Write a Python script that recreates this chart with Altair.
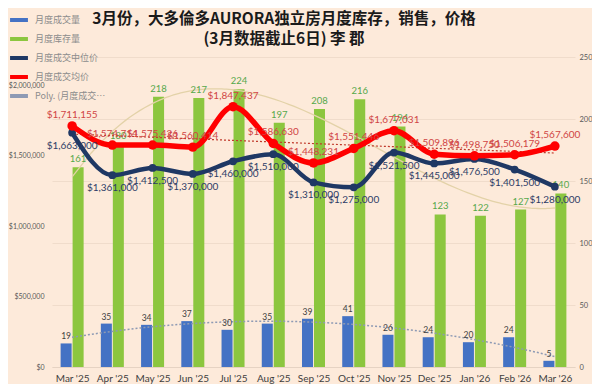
import json
import altair as alt
import pandas as pd

months = ["Mar '25", "Apr '25", "May '25", "Jun '25", "Jul '25", "Aug '25", "Sep '25",
          "Oct '25", "Nov '25", "Dec '25", "Jan '26", "Feb '26", "Mar '26"]
sales = [19, 35, 34, 37, 30, 35, 39, 41, 26, 24, 20, 24, 5]
inventory = [161, 180, 218, 217, 224, 197, 208, 216, 194, 123, 122, 127, 140]
median_price = [1663000, 1361000, 1412500, 1370000, 1460000, 1510000, 1310000,
                1275000, 1521500, 1445000, 1476500, 1401500, 1280000]
average_price = [1711155, 1574714, 1575426, 1560414, 1847437, 1586630, 1448231,
                 1551446, 1677031, 1509896, 1498750, 1506179, 1567600]

legend_names = ["月度成交量", "月度库存量", "月度成交中位价", "月度成交均价", "Poly. (月度成交量)"]
legend_colors = ["#4472C4", "#8CC63F", "#1F3864", "#FF0000", "#8E9AB4"]

title_lines = ["3月份，大多倫多AURORA独立房月度库存，销售，价格", "(3月数据截止6日) 李 郡"]

df = pd.DataFrame({
    "idx": list(range(len(months))),
    "month": months,
    "sales": sales,
    "inventory": inventory,
    "median": median_price,
    "average": average_price,
})

FONT = "Lato"
xs = alt.Scale(domain=[-0.5, len(months) - 0.5], nice=False, zero=False)
xaxis = alt.Axis(values=list(range(len(months))),
                 labelExpr=f"{json.dumps(months)}[datum.value]",
                 title=None, grid=False, ticks=False, domain=True,
                 domainColor="#E6D3C3", labelFont=FONT, labelFontSize=10,
                 labelColor="#404040", labelPadding=6)

ys_cnt = alt.Scale(domain=[0, 250], nice=False, zero=True)
yaxis_cnt = alt.Axis(orient="right", values=[0, 50, 100, 150, 200, 250], title=None,
                     grid=True, gridColor="#F0DCCB", ticks=False, domain=False,
                     labelFont=FONT, labelFontSize=7.5, labelColor="#595959",
                     labelPadding=4)
ys_pr = alt.Scale(domain=[0, 2200000], nice=False, zero=True)
yaxis_pr = alt.Axis(orient="left", values=[0, 500000, 1000000, 1500000, 2000000],
                    format="$,.0f", title=None, grid=False, ticks=False, domain=False,
                    labelFont=FONT, labelFontSize=7, labelColor="#595959",
                    labelPadding=8)

base = alt.Chart(df)

blue_bars = base.transform_calculate(
    bx1="datum.idx - 0.286", bx2="datum.idx - 0.012"
).mark_bar(color="#4472C4").encode(
    x=alt.X("bx1:Q", scale=xs, axis=xaxis), x2="bx2:Q",
    y=alt.Y("sales:Q", scale=ys_cnt, axis=yaxis_cnt), y2=alt.datum(0))

green_bars = base.transform_calculate(
    gx1="datum.idx + 0.012", gx2="datum.idx + 0.286"
).mark_bar(color="#8CC63F").encode(
    x=alt.X("gx1:Q", scale=xs, axis=xaxis), x2="gx2:Q",
    y=alt.Y("inventory:Q", scale=ys_cnt, axis=yaxis_cnt), y2=alt.datum(0))

sales_trend = base.transform_regression(
    "idx", "sales", method="poly", order=2
).mark_line(color="#8E9AB4", strokeWidth=1.5, strokeDash=[2, 2]).encode(
    x=alt.X("idx:Q", scale=xs, axis=xaxis),
    y=alt.Y("sales:Q", scale=ys_cnt, axis=yaxis_cnt))

inv_trend = base.transform_regression(
    "idx", "inventory", method="poly", order=3
).mark_line(color="#E3D2A8", strokeWidth=1.3).encode(
    x=alt.X("idx:Q", scale=xs, axis=xaxis),
    y=alt.Y("inventory:Q", scale=ys_cnt, axis=yaxis_cnt))

blue_lbl = base.transform_calculate(bx="datum.idx - 0.149").mark_text(
    baseline="bottom", dy=-2, font=FONT, fontSize=8.5, color="#404040"
).encode(x=alt.X("bx:Q", scale=xs, axis=xaxis),
         y=alt.Y("sales:Q", scale=ys_cnt, axis=yaxis_cnt), text="sales:Q")

green_lbl = base.transform_calculate(gx="datum.idx + 0.149").mark_text(
    baseline="bottom", dy=-3, font=FONT, fontSize=9.5, color="#55A84A"
).encode(x=alt.X("gx:Q", scale=xs, axis=xaxis),
         y=alt.Y("inventory:Q", scale=ys_cnt, axis=yaxis_cnt), text="inventory:Q")

right_group = alt.layer(blue_bars, green_bars, sales_trend, inv_trend, blue_lbl, green_lbl)

avg_trend = base.transform_regression(
    "idx", "average", method="linear"
).mark_line(color="#C0392B", strokeWidth=1.2, strokeDash=[2, 2]).encode(
    x=alt.X("idx:Q", scale=xs, axis=xaxis),
    y=alt.Y("average:Q", scale=ys_pr, axis=yaxis_pr))

med_line = base.mark_line(color="#1F3864", strokeWidth=4.5, interpolate="monotone").encode(
    x=alt.X("idx:Q", scale=xs, axis=xaxis),
    y=alt.Y("median:Q", scale=ys_pr, axis=yaxis_pr))
med_pts = base.mark_circle(color="#1F3864", size=60, opacity=1).encode(
    x=alt.X("idx:Q", scale=xs, axis=xaxis),
    y=alt.Y("median:Q", scale=ys_pr, axis=yaxis_pr))
avg_line = base.mark_line(color="#FF0000", strokeWidth=5.5, interpolate="monotone").encode(
    x=alt.X("idx:Q", scale=xs, axis=xaxis),
    y=alt.Y("average:Q", scale=ys_pr, axis=yaxis_pr))
avg_pts = base.mark_circle(color="#FF0000", size=90, opacity=1).encode(
    x=alt.X("idx:Q", scale=xs, axis=xaxis),
    y=alt.Y("average:Q", scale=ys_pr, axis=yaxis_pr))

med_lbl = base.mark_text(dy=13, font=FONT, fontSize=10, color="#2E3C66").encode(
    x=alt.X("idx:Q", scale=xs, axis=xaxis),
    y=alt.Y("median:Q", scale=ys_pr, axis=yaxis_pr),
    text=alt.Text("median:Q", format="$,.0f"))
avg_lbl = base.mark_text(dy=-11, font=FONT, fontSize=10, color="#D04545").encode(
    x=alt.X("idx:Q", scale=xs, axis=xaxis),
    y=alt.Y("average:Q", scale=ys_pr, axis=yaxis_pr),
    text=alt.Text("average:Q", format="$,.0f"))

legend_df = pd.DataFrame({"name": legend_names})
legend_layer = alt.Chart(legend_df).mark_point(shape="stroke", filled=False, opacity=0).encode(
    x=alt.value(0), y=alt.value(0),
    color=alt.Color("name:N",
                    scale=alt.Scale(domain=legend_names, range=legend_colors),
                    legend=alt.Legend(title=None, orient="none", legendX=-44, legendY=-48,
                                      symbolType="stroke", symbolSize=320,
                                      symbolStrokeWidth=4, symbolOpacity=1,
                                      labelFont="Noto Sans CJK SC", labelFontSize=9,
                                      labelColor="#8C8C8C", labelLimit=72,
                                      rowPadding=0, padding=0, labelOffset=5)))

title_df = pd.DataFrame({"line": title_lines, "row": [0, 1]})
title_layer = alt.Chart(title_df).transform_calculate(
    ty="-38 + datum.row * 20"
).mark_text(font="Noto Sans CJK SC", fontSize=15.5, fontWeight="bold",
            color="#1A1A1A", align="center", baseline="middle").encode(
    x=alt.value(232), y=alt.Y("ty:Q", scale=None), text="line:N")

left_group = alt.layer(avg_trend, med_line, med_pts, avg_line, avg_pts,
                       med_lbl, avg_lbl, legend_layer)

chart = alt.layer(right_group, left_group, title_layer).resolve_scale(y="independent").properties(
    width=523, height=310,
    autosize=alt.AutoSizeParams(type="none"),
    padding={"left": 44, "top": 49, "right": 17, "bottom": 17},
).configure(background="#FDEADA").configure_view(stroke=None)

chart.save("out.html", embed_options={"renderer": "svg", "actions": False})
